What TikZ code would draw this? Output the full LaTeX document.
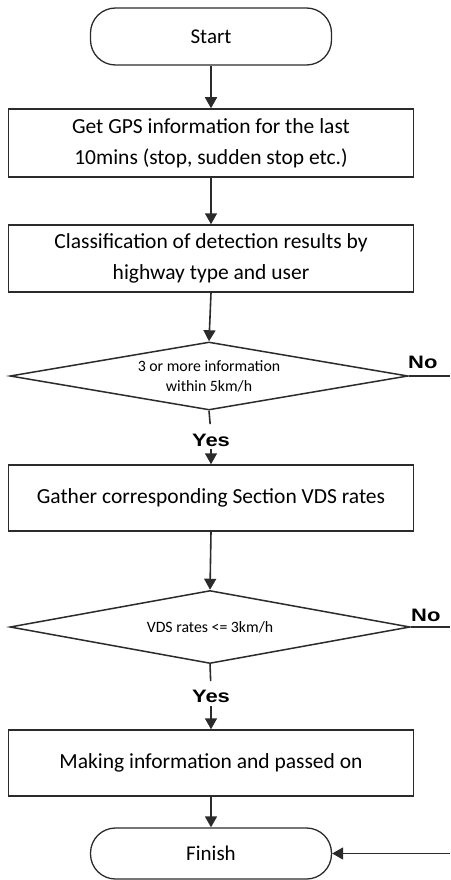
\documentclass[tikz,border=0pt]{standalone}
\usepackage{fontspec}
\usepackage{graphicx}
\setmainfont{Carlito}
\newfontfamily\labelfont{Liberation Sans}
\usetikzlibrary{shapes.geometric,arrows.meta}
\definecolor{ink}{HTML}{2B2B2B}
\newcommand{\widelabel}[1]{\scalebox{1.22}[1]{#1}}
\tikzset{
  flowline/.style={draw=ink, line width=1.6pt},
  flowarrow/.style={flowline, -{Triangle[length=11pt,width=12pt]}},
  terminal/.style={draw=ink, line width=1.3pt, rounded corners=25pt,
    minimum width=241pt, inner sep=0pt, font=\fontsize{21}{24}\selectfont},
  process/.style={draw=ink, line width=1.5pt, minimum width=405pt,
    minimum height=67pt, inner sep=0pt, align=center,
    font=\fontsize{21.5}{31}\selectfont},
  decision/.style={draw=ink, line width=1.5pt, shape=diamond, aspect=5.8,
    inner sep=0pt, align=center, font=\fontsize{15.8}{20}\selectfont},
  branch/.style={font=\labelfont\bfseries\fontsize{18}{18}\selectfont,
    inner sep=0pt, text=black}
}
\begin{document}
\begin{tikzpicture}[x=1pt, y=-1pt]
  \useasboundingbox (0,0) rectangle (450,880);

  % terminals, steps and checks, top to bottom
  \node[terminal, minimum height=57pt] (start) at (211,36.5) {Start};
  \node[process, minimum height=68pt] (gps) at (211,143)
    {Get GPS information for the last\\10mins (stop, sudden stop etc.)};
  \node[process] (classify) at (211,258.5)
    {Classification of detection results by\\highway type and user};
  \node[decision, minimum width=398pt, minimum height=68pt] (check1) at (209,376)
    {3 or more information\\within 5km/h};
  \node[process, minimum height=66pt] (vds) at (211,498)
    {Gather corresponding Section VDS rates};
  \node[decision, minimum width=400pt, minimum height=73pt] (check2) at (210,627)
    {VDS rates <= 3km/h};
  \node[process, minimum height=66pt] (inform) at (211,763)
    {Making information and passed on};
  \node[terminal, minimum height=51pt] (finish) at (211,853.5) {Finish};

  % branch labels
  \node[branch, anchor=south] (yes1) at (211,447) {\widelabel{Yes}};
  \node[branch, anchor=south] (yes2) at (211,703) {\widelabel{Yes}};
  \node[branch, anchor=south west] (no1) at (408,369) {\widelabel{No}};
  \node[branch, anchor=south west] (no2) at (411,622) {\widelabel{No}};

  % loose ends at the right margin
  \coordinate (out1) at (450,376);
  \coordinate (out2) at (450,627);
  \coordinate (in3) at (450,853.5);

  % main flow
  \draw[flowarrow] (start.south) -- (gps.north);
  \draw[flowarrow] (gps.south) -- (classify.north);
  \draw[flowarrow] (classify.south) -- (check1.north);
  \draw[flowline, shorten >=10pt] (check1.south) -- (yes1.north);
  \draw[flowarrow, shorten <=2pt] (yes1.south) -- (vds.north);
  \draw[flowarrow] (vds.south) -- (check2.north);
  \draw[flowline, shorten >=9pt] (check2.south) -- (yes2.north);
  \draw[flowarrow, shorten <=3pt] (yes2.south) -- (inform.north);
  \draw[flowarrow] (inform.south) -- (finish.north);

  % "No" exits and the return into Finish
  \draw[flowline] (check1.east) -- (out1);
  \draw[flowline] (check2.east) -- (out2);
  \draw[flowarrow] (in3) -- (finish.east);
\end{tikzpicture}
\end{document}
